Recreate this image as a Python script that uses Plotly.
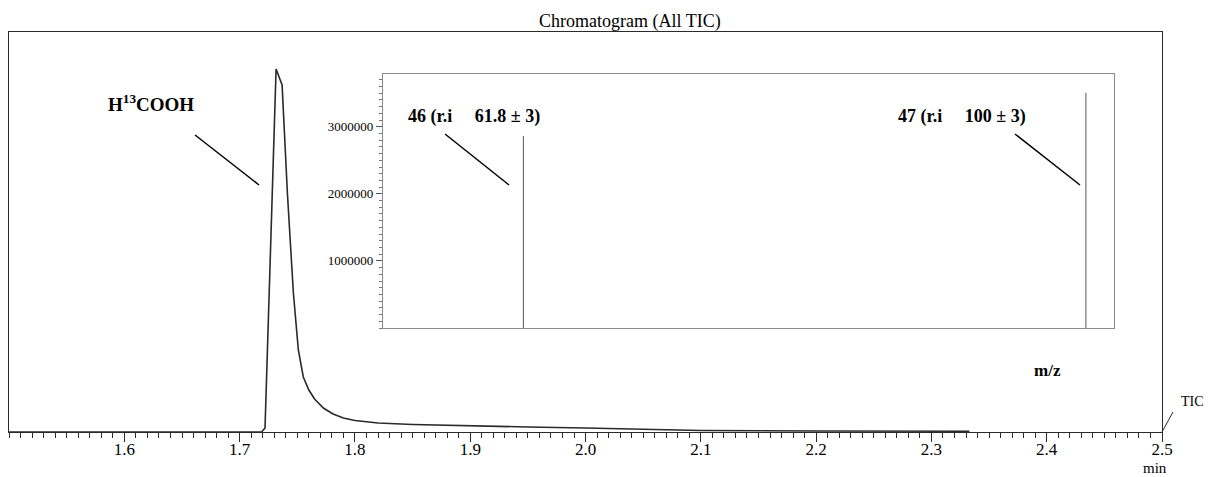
import plotly.graph_objects as go

# The page body has an 8px margin; the photographed page also comes out
# slightly narrower horizontally (about 0.991), so x positions are compensated.
OFF = 8
SX = 0.991
W, H = 1215, 469

# ---- Data: chromatogram (All TIC) ----
rt_min = [1.500, 1.719, 1.722, 1.7316, 1.7368, 1.7414, 1.7466, 1.7509, 1.7552,
          1.7600, 1.7650, 1.7726, 1.7810, 1.7900, 1.800, 1.820, 1.850, 1.900,
          1.950, 2.000, 2.050, 2.070, 2.100, 2.200, 2.333]
tic_intensity = [0, 0, 4, 363, 347, 239, 139, 82, 55,
                 42, 33, 24, 18, 14, 11.5, 9, 7.5, 6,
                 5, 4, 3, 2.5, 1.5, 1, 0.8]
rt_ticks = [1.6, 1.7, 1.8, 1.9, 2.0, 2.1, 2.2, 2.3, 2.4, 2.5]
rt_tick_labels = ["1.6", "1.7", "1.8", "1.9", "2.0", "2.1", "2.2", "2.3", "2.4", "2.5"]

# ---- Data: inset mass spectrum ----
mz_values = [46, 47]
mz_abundance = [2861000, 3507000]
mz_labels = ["46 (r.i\u00a0\u00a0\u00a0\u00a0\u00a061.8 ± 3)", "47 (r.i\u00a0\u00a0\u00a0\u00a0\u00a0100 ± 3)"]
ms_yticks = [1000000, 2000000, 3000000]
ms_ytick_labels = ["1000000", "2000000", "3000000"]

SERIF = "Liberation Serif, Times New Roman, serif"


def px(x):
    return (x / SX - OFF) / W


def py(y):
    return 1 - (y - OFF) / H


fig = go.Figure()

# main chromatogram trace
fig.add_trace(go.Scatter(x=rt_min, y=tic_intensity, mode="lines",
                         line=dict(color="#2a2a2a", width=1.6),
                         xaxis="x", yaxis="y", showlegend=False, hoverinfo="x+y"))

# inset sticks
stick_x, stick_y = [], []
for m, a in zip(mz_values, mz_abundance):
    stick_x += [m, m, None]
    stick_y += [0, a, None]
fig.add_trace(go.Scatter(x=stick_x, y=stick_y, mode="lines",
                         line=dict(color="#555555", width=1),
                         xaxis="x2", yaxis="y2", showlegend=False, hoverinfo="skip"))

fig.update_layout(
    width=W, height=H, autosize=False,
    margin=dict(l=0, r=0, t=0, b=0),
    paper_bgcolor="white", plot_bgcolor="white",
    font=dict(family=SERIF, color="black"),
    xaxis=dict(domain=[px(9), px(1162)], range=[1.5, 2.5], anchor="y",
               showline=True, mirror=True, linecolor="#2a2a2a", linewidth=1,
               showgrid=False, zeroline=False,
               tickmode="array", tickvals=rt_ticks, ticktext=rt_tick_labels,
               ticks="outside", ticklen=9, tickcolor="#2a2a2a", tickwidth=1,
               ticklabelstandoff=-7,
               minor=dict(dtick=0.01, tick0=1.5, ticks="outside", ticklen=5,
                          tickcolor="#2a2a2a", tickwidth=1, showgrid=False),
               tickfont=dict(family=SERIF, size=17, color="black")),
    yaxis=dict(domain=[py(432), py(32)], range=[0, 400], anchor="x",
               showline=True, mirror=True, linecolor="#2a2a2a", linewidth=1,
               showgrid=False, zeroline=False, showticklabels=False, ticks=""),
    xaxis2=dict(domain=[px(382.7), px(1114)], range=[45.75, 47.05], anchor="y2",
                showline=True, mirror=True, linecolor="#8a8a8a", linewidth=1,
                showgrid=False, zeroline=False, showticklabels=False, ticks=""),
    yaxis2=dict(domain=[py(328), py(74)], range=[0, 3.787e6], anchor="x2",
                showline=True, mirror=True, linecolor="#8a8a8a", linewidth=1,
                showgrid=False, zeroline=False,
                tickmode="array", tickvals=ms_yticks, ticktext=ms_ytick_labels,
                ticks="outside", ticklen=6, tickcolor="#555555", tickwidth=1,
                minor=dict(dtick=100000, tick0=0, ticks="outside", ticklen=3,
                           tickcolor="#777777", tickwidth=1, showgrid=False),
                tickfont=dict(family=SERIF, size=13, color="black")),
)

annotations = [
    dict(text="Chromatogram (All TIC)", x=px(630), y=py(22), xref="paper", yref="paper",
         showarrow=False, xanchor="center", yanchor="middle",
         font=dict(family=SERIF, size=18, color="black")),
    dict(text="<b>H<sup>13</sup>COOH</b>", x=px(106), y=py(103), xref="paper", yref="paper",
         showarrow=False, xanchor="left", yanchor="middle",
         font=dict(family=SERIF, size=19, color="black")),
    dict(text="<b>" + mz_labels[0] + "</b>", x=px(406), y=py(117), xref="paper", yref="paper",
         showarrow=False, xanchor="left", yanchor="middle",
         font=dict(family=SERIF, size=18, color="black")),
    dict(text="<b>" + mz_labels[1] + "</b>", x=px(896), y=py(117), xref="paper", yref="paper",
         showarrow=False, xanchor="left", yanchor="middle",
         font=dict(family=SERIF, size=18, color="black")),
    dict(text="<b>m/z</b>", x=px(1047), y=py(370), xref="paper", yref="paper",
         showarrow=False, xanchor="center", yanchor="middle",
         font=dict(family=SERIF, size=17, color="black")),
    dict(text="TIC", x=px(1179), y=py(401), xref="paper", yref="paper",
         showarrow=False, xanchor="left", yanchor="middle",
         font=dict(family=SERIF, size=14, color="black")),
    dict(text="min", x=px(1155), y=py(468), xref="paper", yref="paper",
         showarrow=False, xanchor="center", yanchor="middle",
         font=dict(family=SERIF, size=15, color="black")),
]

line_style = dict(color="black", width=1.5)
shapes = [
    dict(type="line", xref="paper", yref="paper", x0=px(195), y0=py(135), x1=px(259), y1=py(185), line=line_style),
    dict(type="line", xref="paper", yref="paper", x0=px(445), y0=py(134), x1=px(509), y1=py(185), line=line_style),
    dict(type="line", xref="paper", yref="paper", x0=px(1015), y0=py(134), x1=px(1080), y1=py(185), line=line_style),
    dict(type="line", xref="paper", yref="paper", x0=px(1162), y0=py(432), x1=px(1173), y1=py(412),
         line=dict(color="#2a2a2a", width=1)),
]

fig.update_layout(annotations=annotations, shapes=shapes)

fig.write_html("out.html")
